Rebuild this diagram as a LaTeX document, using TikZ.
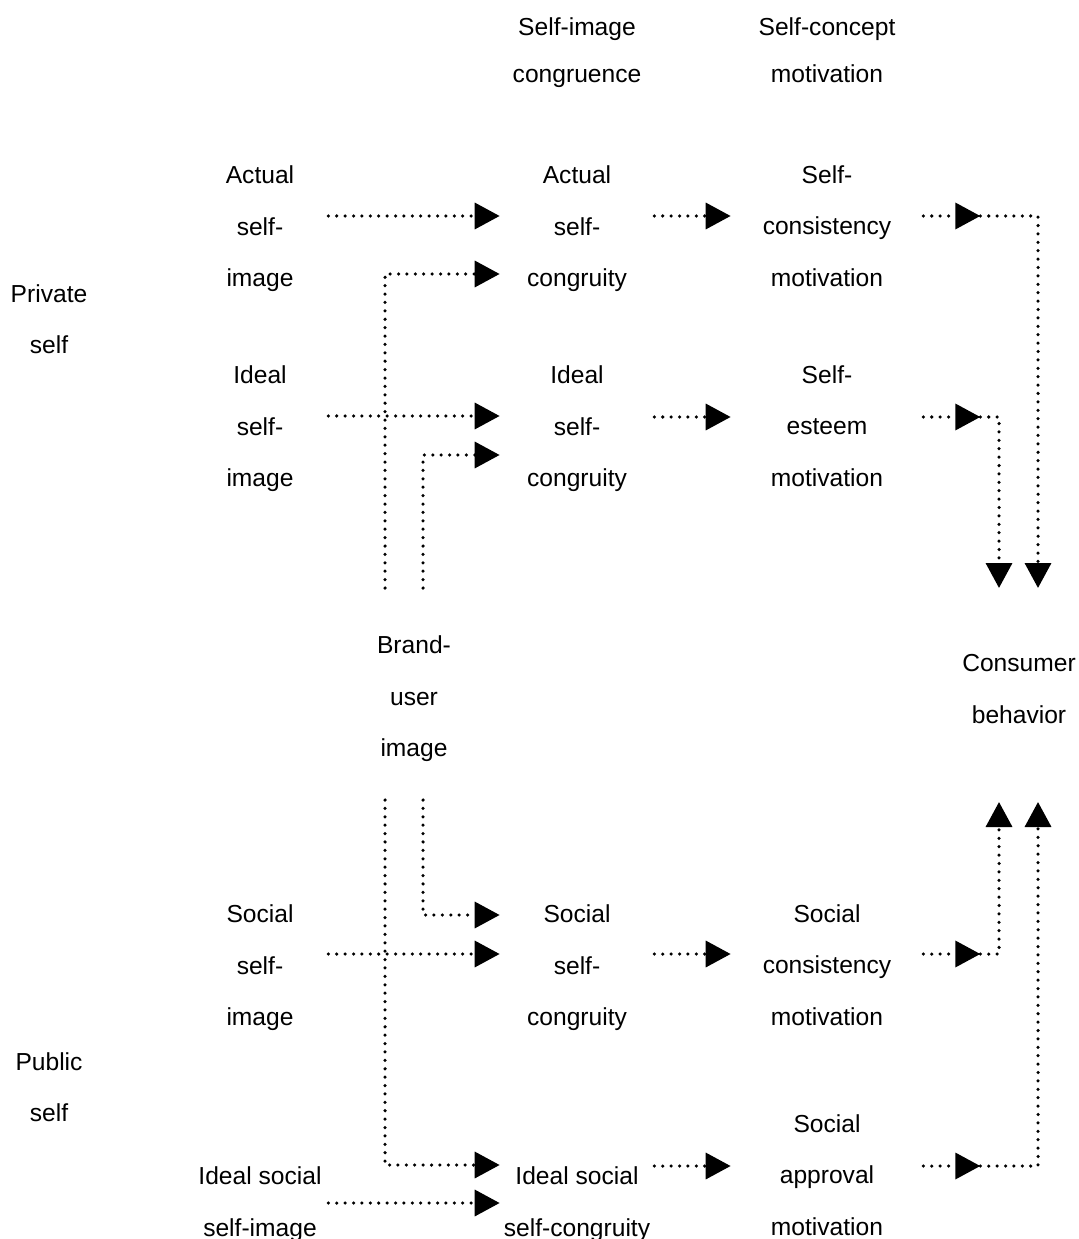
\documentclass[tikz,border=0pt]{standalone}
\usepackage{fontspec}
\setmainfont{Liberation Sans}
\usetikzlibrary{arrows.meta,calc}

\begin{document}
\begin{tikzpicture}[x=0.02cm, y=-0.02cm, >={Triangle[length=5mm,width=5.2mm]},
  txt/.style={align=center, inner sep=0pt, font=\fontsize{14}{29.3}\selectfont},
  hd/.style={align=center, inner sep=0pt, font=\fontsize{14}{26.6}\selectfont},
  lcol/.style={txt, minimum width=2.72cm},
  mcol/.style={txt, minimum width=3.08cm},
  rcol/.style={txt, minimum width=3.84cm},
  dots/.style={line width=2pt, line cap=round, dash pattern=on 0pt off 4.78pt},
  dotarr/.style={dots, ->}]
\useasboundingbox (0,0) rectangle (1078,1239);
% headers
\node[hd] (hdcong) at (577,53) {Self-image\\congruence};
\node[hd] (hdmot) at (827,50) {Self-concept\\motivation};
% private / public
\node[txt] (private) at (49,319) {Private\\self};
\node[txt] (public) at (49,1087) {Public\\self};
% self-images
\node[lcol] (actual) at (260,229) {Actual\\self-\\image};
\node[lcol] (ideal) at (260,429) {Ideal\\self-\\image};
\node[lcol] (social) at (260,968) {Social\\self-\\image};
\node[lcol] (idsoc) at (260,1204) {Ideal social\\self-image};
\node[txt] (brand) at (414,699) {Brand-\\user\\image};
% congruity
\node[mcol] (acong) at (577,229) {Actual\\self-\\congruity};
\node[mcol] (icong) at (577,429) {Ideal\\self-\\congruity};
\node[mcol] (scong) at (577,968) {Social\\self-\\congruity};
\node[mcol] (iscong) at (577,1204) {Ideal social\\self-congruity};
% motivation
\node[rcol] (cons) at (827,226) {Self-\\consistency\\motivation};
\node[rcol] (esteem) at (827,426) {Self-\\esteem\\motivation};
\node[rcol] (socons) at (827,965) {Social\\consistency\\motivation};
\node[rcol] (approval) at (827,1175) {Social\\approval\\motivation};
\node[txt] (consumer) at (1019,689) {Consumer\\behavior};
% self-image -> congruity
\draw[dotarr] ($(actual.east)+(0,-13)$) -- ($(acong.west)+(0,-13)$);
\draw[dotarr] ($(ideal.east)+(0,-13)$) -- ($(icong.west)+(0,-13)$);
\draw[dotarr] ($(social.east)+(0,-14)$) -- ($(scong.west)+(0,-14)$);
\draw[dotarr] ($(idsoc.east)+(0,-1)$) -- ($(iscong.west)+(0,-1)$);
% brand-user image -> congruity
\draw[dotarr] ($(brand.center)+(-29,-111)$) |- ($(acong.west)+(0,45)$);
\draw[dotarr] ($(brand.center)+(9,-111)$) |- ($(icong.west)+(0,26)$);
\draw[dotarr] ($(brand.center)+(9,101)$) |- ($(scong.west)+(0,-53)$);
\draw[dotarr] ($(brand.center)+(-29,101)$) |- ($(iscong.west)+(0,-39)$);
% congruity -> motivation
\draw[dotarr] ($(acong.east)+(0,-13)$) -- ($(cons.west)+(0,-10)$);
\draw[dotarr] ($(icong.east)+(0,-12)$) -- ($(esteem.west)+(0,-9)$);
\draw[dotarr] ($(scong.east)+(0,-14)$) -- ($(socons.west)+(0,-11)$);
\draw[dotarr] ($(iscong.east)+(0,-38)$) -- ($(approval.west)+(0,-9)$);
% motivation -> consumer behavior
\coordinate (m1) at ($(cons.east)+(57,-10)$);
\coordinate (m2) at ($(esteem.east)+(57,-9)$);
\coordinate (m3) at ($(socons.east)+(57,-11)$);
\coordinate (m4) at ($(approval.east)+(57,-9)$);
\draw[dotarr] ($(cons.east)+(0,-10)$) -- (m1);
\draw[dotarr] ($(esteem.east)+(0,-9)$) -- (m2);
\draw[dotarr] ($(socons.east)+(0,-11)$) -- (m3);
\draw[dotarr] ($(approval.east)+(0,-9)$) -- (m4);
\draw[dotarr] (m1) -| ($(consumer.center)+(19,-101)$);
\draw[dotarr] (m2) -| ($(consumer.center)+(-20,-101)$);
\draw[dotarr] (m3) -| ($(consumer.center)+(-20,113)$);
\draw[dotarr] (m4) -| ($(consumer.center)+(19,113)$);
\end{tikzpicture}
\end{document}
